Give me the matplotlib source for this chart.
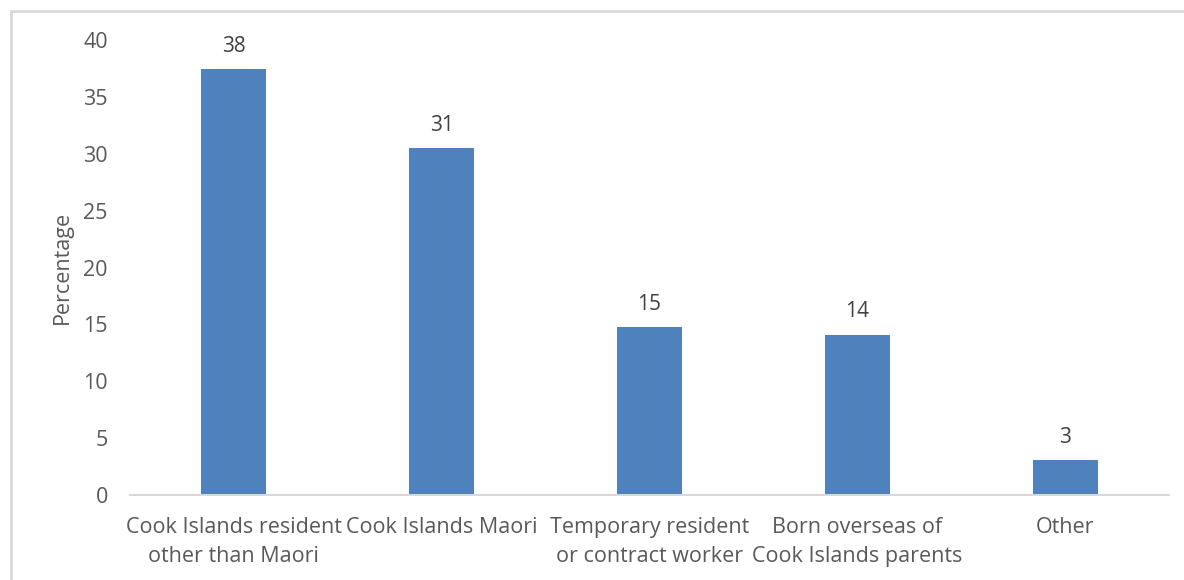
import matplotlib
matplotlib.use("Agg")
import matplotlib.pyplot as plt
from matplotlib.patches import Rectangle

categories = ["Cook Islands resident\nother than Maori", "Cook Islands Maori",
              "Temporary resident\nor contract worker", "Born overseas of\nCook Islands parents", "Other"]
values = [37.45, 30.48, 14.75, 14.07, 3.05]
labels = ["38", "31", "15", "14", "3"]
yticks = [0, 5, 10, 15, 20, 25, 30, 35, 40]

plt.rcParams['font.family'] = ['Open Sans', 'DejaVu Sans']
W, H = 1184, 580
fig = plt.figure(figsize=(W/100, H/100), dpi=100)
ax = fig.add_axes([130/W, 1-495/H, (1169-130)/W, (495-40)/H])

x = range(len(categories))
bars = ax.bar(x, values, width=0.313, color="#4F81BD", zorder=2)
for xi, v, lab in zip(x, values, labels):
    ax.annotate(lab, (xi, v), xytext=(0, 9), textcoords="offset points",
                ha="center", va="bottom", fontsize=15, color="#404040")

ax.set_xlim(-0.5, len(categories)-0.5)
ax.set_ylim(0, 40)
ax.set_yticks(yticks)
ax.set_yticklabels([str(t) for t in yticks], fontsize=15.5, color="#595959")
ax.set_xticks(list(x))
ax.set_xticklabels(categories, fontsize=15.5, color="#595959", linespacing=1.5)
ax.tick_params(axis='both', length=0)
ax.tick_params(axis='y', pad=16)
ax.tick_params(axis='x', pad=16)
for s in ["top", "right", "left"]:
    ax.spines[s].set_visible(False)
ax.spines["bottom"].set_color("#D9D9D9")
ax.spines["bottom"].set_linewidth(1.5)
ax.set_ylabel("Percentage", fontsize=15.5, color="#595959")
ax.yaxis.set_label_coords((73 - 130) / (1169 - 130), 0.5)

fig.patches.append(Rectangle((10.5/W, -0.1), 1.2, 1-11/H+0.1, transform=fig.transFigure,
                             fill=False, edgecolor="#D9D9D9", linewidth=2, figure=fig))
fig.savefig("out.png", dpi=100)
